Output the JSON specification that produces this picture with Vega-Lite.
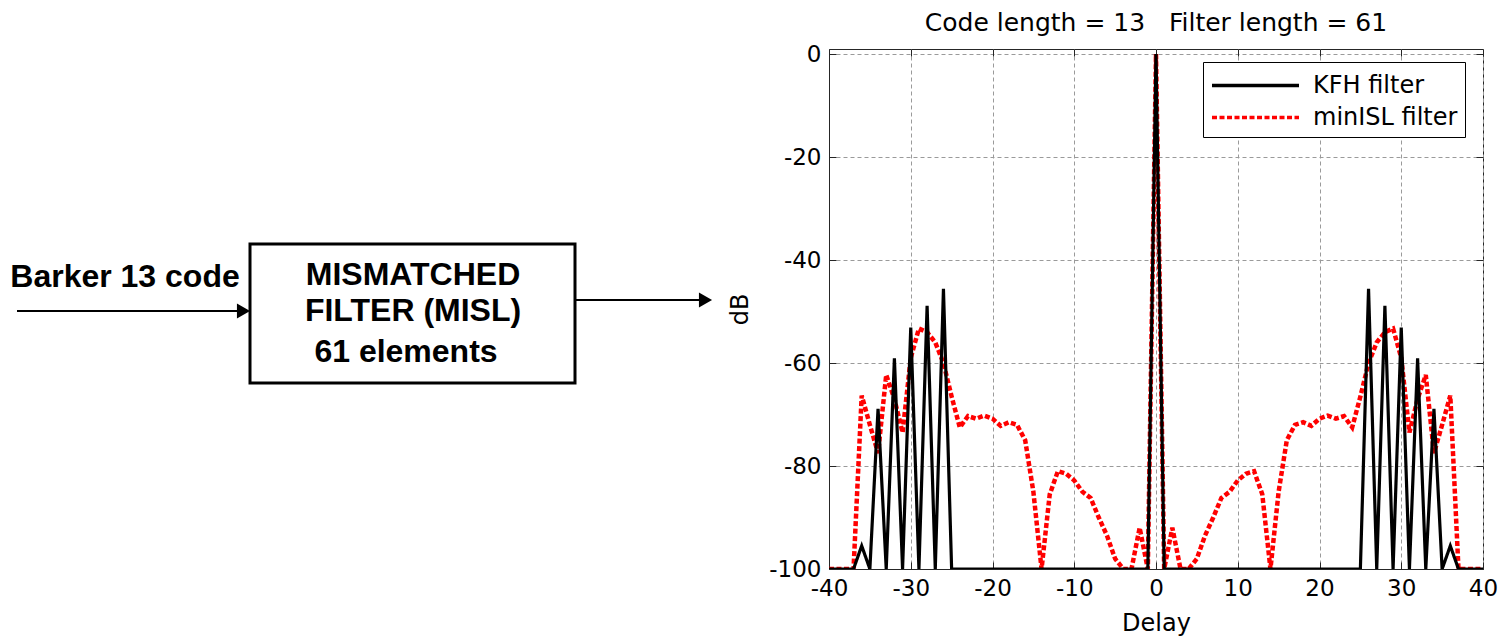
{
  "$schema": "https://vega.github.io/schema/vega-lite/v6.json",
  "padding": {"left": 0, "top": 10, "right": 0, "bottom": 0},
  "spacing": 8,
  "background": "white",
  "datasets": {
    "box": [{"x1": 250, "x2": 575, "y1": 245, "y2": 384}],
    "arrows": [
      {"x1": 17, "x2": 240, "y1": 312, "y2": 312},
      {"x1": 576, "x2": 702, "y1": 301, "y2": 301}
    ],
    "heads": [{"x": 243.5, "y": 312}, {"x": 705.5, "y": 301}],
    "labels": [
      {"x": 125, "y": 278, "t": "Barker 13 code"},
      {"x": 413, "y": 276, "t": "MISMATCHED"},
      {"x": 413, "y": 312, "t": "FILTER (MISL)"},
      {"x": 406, "y": 353, "t": "61 elements"}
    ],
    "kfh": [
      {"d": -40, "db": -100, "s": "KFH filter"}, {"d": -39, "db": -100, "s": "KFH filter"}, {"d": -38, "db": -100, "s": "KFH filter"}, {"d": -37, "db": -100, "s": "KFH filter"},
      {"d": -36, "db": -95.5, "s": "KFH filter"}, {"d": -35, "db": -100, "s": "KFH filter"}, {"d": -34, "db": -68.9, "s": "KFH filter"}, {"d": -33, "db": -100, "s": "KFH filter"},
      {"d": -32, "db": -59.1, "s": "KFH filter"}, {"d": -31, "db": -100, "s": "KFH filter"}, {"d": -30, "db": -53.1, "s": "KFH filter"}, {"d": -29, "db": -100, "s": "KFH filter"},
      {"d": -28, "db": -48.9, "s": "KFH filter"}, {"d": -27, "db": -100, "s": "KFH filter"}, {"d": -26, "db": -45.6, "s": "KFH filter"}, {"d": -25, "db": -100, "s": "KFH filter"},
      {"d": -24, "db": -100, "s": "KFH filter"}, {"d": -23, "db": -100, "s": "KFH filter"}, {"d": -22, "db": -100, "s": "KFH filter"}, {"d": -21, "db": -100, "s": "KFH filter"},
      {"d": -20, "db": -100, "s": "KFH filter"}, {"d": -19, "db": -100, "s": "KFH filter"}, {"d": -18, "db": -100, "s": "KFH filter"}, {"d": -17, "db": -100, "s": "KFH filter"},
      {"d": -16, "db": -100, "s": "KFH filter"}, {"d": -15, "db": -100, "s": "KFH filter"}, {"d": -14, "db": -100, "s": "KFH filter"}, {"d": -13, "db": -100, "s": "KFH filter"},
      {"d": -12, "db": -100, "s": "KFH filter"}, {"d": -11, "db": -100, "s": "KFH filter"}, {"d": -10, "db": -100, "s": "KFH filter"}, {"d": -9, "db": -100, "s": "KFH filter"},
      {"d": -8, "db": -100, "s": "KFH filter"}, {"d": -7, "db": -100, "s": "KFH filter"}, {"d": -6, "db": -100, "s": "KFH filter"}, {"d": -5, "db": -100, "s": "KFH filter"},
      {"d": -4, "db": -100, "s": "KFH filter"}, {"d": -3, "db": -100, "s": "KFH filter"}, {"d": -2, "db": -100, "s": "KFH filter"}, {"d": -1, "db": -100, "s": "KFH filter"},
      {"d": 0, "db": 0, "s": "KFH filter"},
      {"d": 1, "db": -100, "s": "KFH filter"}, {"d": 2, "db": -100, "s": "KFH filter"}, {"d": 3, "db": -100, "s": "KFH filter"}, {"d": 4, "db": -100, "s": "KFH filter"},
      {"d": 5, "db": -100, "s": "KFH filter"}, {"d": 6, "db": -100, "s": "KFH filter"}, {"d": 7, "db": -100, "s": "KFH filter"}, {"d": 8, "db": -100, "s": "KFH filter"},
      {"d": 9, "db": -100, "s": "KFH filter"}, {"d": 10, "db": -100, "s": "KFH filter"}, {"d": 11, "db": -100, "s": "KFH filter"}, {"d": 12, "db": -100, "s": "KFH filter"},
      {"d": 13, "db": -100, "s": "KFH filter"}, {"d": 14, "db": -100, "s": "KFH filter"}, {"d": 15, "db": -100, "s": "KFH filter"}, {"d": 16, "db": -100, "s": "KFH filter"},
      {"d": 17, "db": -100, "s": "KFH filter"}, {"d": 18, "db": -100, "s": "KFH filter"}, {"d": 19, "db": -100, "s": "KFH filter"}, {"d": 20, "db": -100, "s": "KFH filter"},
      {"d": 21, "db": -100, "s": "KFH filter"}, {"d": 22, "db": -100, "s": "KFH filter"}, {"d": 23, "db": -100, "s": "KFH filter"}, {"d": 24, "db": -100, "s": "KFH filter"},
      {"d": 25, "db": -100, "s": "KFH filter"}, {"d": 26, "db": -45.6, "s": "KFH filter"}, {"d": 27, "db": -100, "s": "KFH filter"}, {"d": 28, "db": -48.9, "s": "KFH filter"},
      {"d": 29, "db": -100, "s": "KFH filter"}, {"d": 30, "db": -53.1, "s": "KFH filter"}, {"d": 31, "db": -100, "s": "KFH filter"}, {"d": 32, "db": -59.1, "s": "KFH filter"},
      {"d": 33, "db": -100, "s": "KFH filter"}, {"d": 34, "db": -68.9, "s": "KFH filter"}, {"d": 35, "db": -100, "s": "KFH filter"}, {"d": 36, "db": -95.5, "s": "KFH filter"},
      {"d": 37, "db": -100, "s": "KFH filter"}, {"d": 38, "db": -100, "s": "KFH filter"}, {"d": 39, "db": -100, "s": "KFH filter"}, {"d": 40, "db": -100, "s": "KFH filter"}
    ],
    "isl": [
      {"d": -40, "db": -100, "s": "minISL filter"}, {"d": -39, "db": -100, "s": "minISL filter"}, {"d": -38, "db": -100, "s": "minISL filter"}, {"d": -37, "db": -100, "s": "minISL filter"},
      {"d": -36, "db": -66.3, "s": "minISL filter"}, {"d": -35, "db": -72, "s": "minISL filter"}, {"d": -34, "db": -77.5, "s": "minISL filter"}, {"d": -33, "db": -62.3, "s": "minISL filter"},
      {"d": -32, "db": -67, "s": "minISL filter"}, {"d": -31, "db": -73.5, "s": "minISL filter"}, {"d": -30, "db": -59, "s": "minISL filter"}, {"d": -29, "db": -53.3, "s": "minISL filter"},
      {"d": -28, "db": -54, "s": "minISL filter"}, {"d": -27, "db": -56, "s": "minISL filter"}, {"d": -26, "db": -60, "s": "minISL filter"}, {"d": -25, "db": -66.5, "s": "minISL filter"},
      {"d": -24, "db": -72.5, "s": "minISL filter"}, {"d": -23, "db": -70.3, "s": "minISL filter"}, {"d": -22, "db": -70.8, "s": "minISL filter"}, {"d": -21, "db": -70.2, "s": "minISL filter"},
      {"d": -20, "db": -70.8, "s": "minISL filter"}, {"d": -19, "db": -72.2, "s": "minISL filter"}, {"d": -18, "db": -71.5, "s": "minISL filter"}, {"d": -17, "db": -72, "s": "minISL filter"},
      {"d": -16, "db": -75, "s": "minISL filter"}, {"d": -15, "db": -85, "s": "minISL filter"}, {"d": -14, "db": -100, "s": "minISL filter"}, {"d": -13, "db": -85.5, "s": "minISL filter"},
      {"d": -12, "db": -81, "s": "minISL filter"}, {"d": -11, "db": -81.5, "s": "minISL filter"}, {"d": -10, "db": -82.8, "s": "minISL filter"}, {"d": -9, "db": -85, "s": "minISL filter"},
      {"d": -8, "db": -86.2, "s": "minISL filter"}, {"d": -7, "db": -90, "s": "minISL filter"}, {"d": -6, "db": -93.5, "s": "minISL filter"}, {"d": -5, "db": -98, "s": "minISL filter"},
      {"d": -4, "db": -100, "s": "minISL filter"}, {"d": -3, "db": -100, "s": "minISL filter"}, {"d": -2, "db": -92, "s": "minISL filter"}, {"d": -1, "db": -100, "s": "minISL filter"},
      {"d": 0, "db": 0, "s": "minISL filter"},
      {"d": 1, "db": -100, "s": "minISL filter"}, {"d": 2, "db": -92, "s": "minISL filter"}, {"d": 3, "db": -100, "s": "minISL filter"}, {"d": 4, "db": -100, "s": "minISL filter"},
      {"d": 5, "db": -98, "s": "minISL filter"}, {"d": 6, "db": -93.5, "s": "minISL filter"}, {"d": 7, "db": -90, "s": "minISL filter"}, {"d": 8, "db": -86.2, "s": "minISL filter"},
      {"d": 9, "db": -85, "s": "minISL filter"}, {"d": 10, "db": -82.8, "s": "minISL filter"}, {"d": 11, "db": -81.5, "s": "minISL filter"}, {"d": 12, "db": -81, "s": "minISL filter"},
      {"d": 13, "db": -85.5, "s": "minISL filter"}, {"d": 14, "db": -100, "s": "minISL filter"}, {"d": 15, "db": -85, "s": "minISL filter"}, {"d": 16, "db": -75, "s": "minISL filter"},
      {"d": 17, "db": -72, "s": "minISL filter"}, {"d": 18, "db": -71.5, "s": "minISL filter"}, {"d": 19, "db": -72.2, "s": "minISL filter"}, {"d": 20, "db": -70.8, "s": "minISL filter"},
      {"d": 21, "db": -70.2, "s": "minISL filter"}, {"d": 22, "db": -70.8, "s": "minISL filter"}, {"d": 23, "db": -70.3, "s": "minISL filter"}, {"d": 24, "db": -72.5, "s": "minISL filter"},
      {"d": 25, "db": -66.5, "s": "minISL filter"}, {"d": 26, "db": -60, "s": "minISL filter"}, {"d": 27, "db": -56, "s": "minISL filter"}, {"d": 28, "db": -54, "s": "minISL filter"},
      {"d": 29, "db": -53.3, "s": "minISL filter"}, {"d": 30, "db": -59, "s": "minISL filter"}, {"d": 31, "db": -73.5, "s": "minISL filter"}, {"d": 32, "db": -67, "s": "minISL filter"},
      {"d": 33, "db": -62.3, "s": "minISL filter"}, {"d": 34, "db": -77.5, "s": "minISL filter"}, {"d": 35, "db": -72, "s": "minISL filter"}, {"d": 36, "db": -66.3, "s": "minISL filter"},
      {"d": 37, "db": -100, "s": "minISL filter"}, {"d": 38, "db": -100, "s": "minISL filter"}, {"d": 39, "db": -100, "s": "minISL filter"}, {"d": 40, "db": -100, "s": "minISL filter"}
    ]
  },
  "hconcat": [
    {
      "width": 720,
      "height": 590,
      "view": {"stroke": null},
      "layer": [
        {
          "data": {"name": "box"},
          "mark": {"type": "rect", "filled": false, "stroke": "#000000", "strokeWidth": 3},
          "encoding": {
            "x": {"field": "x1", "type": "quantitative", "scale": {"domain": [0, 720], "nice": false, "zero": false}, "axis": null},
            "x2": {"field": "x2"},
            "y": {"field": "y1", "type": "quantitative", "scale": {"domain": [50, 640], "reverse": true, "nice": false, "zero": false}, "axis": null},
            "y2": {"field": "y2"}
          }
        },
        {
          "data": {"name": "arrows"},
          "mark": {"type": "rule", "stroke": "#000000", "strokeWidth": 2},
          "encoding": {
            "x": {"field": "x1", "type": "quantitative", "scale": {"domain": [0, 720], "nice": false, "zero": false}, "axis": null},
            "x2": {"field": "x2"},
            "y": {"field": "y1", "type": "quantitative", "scale": {"domain": [50, 640], "reverse": true, "nice": false, "zero": false}, "axis": null},
            "y2": {"field": "y2"}
          }
        },
        {
          "data": {"name": "heads"},
          "mark": {"type": "point", "shape": "triangle-right", "filled": true, "color": "#000000", "opacity": 1, "size": 230},
          "encoding": {
            "x": {"field": "x", "type": "quantitative", "scale": {"domain": [0, 720], "nice": false, "zero": false}, "axis": null},
            "y": {"field": "y", "type": "quantitative", "scale": {"domain": [50, 640], "reverse": true, "nice": false, "zero": false}, "axis": null}
          }
        },
        {
          "data": {"name": "labels"},
          "mark": {"type": "text", "font": "Liberation Sans", "fontWeight": "bold", "fontSize": 32, "align": "center", "baseline": "middle", "color": "#000000"},
          "encoding": {
            "x": {"field": "x", "type": "quantitative", "scale": {"domain": [0, 720], "nice": false, "zero": false}, "axis": null},
            "y": {"field": "y", "type": "quantitative", "scale": {"domain": [50, 640], "reverse": true, "nice": false, "zero": false}, "axis": null},
            "text": {"field": "t"}
          }
        }
      ]
    },
    {
      "width": 654,
      "height": 520,
      "title": {"text": "Code length = 13\u00a0\u00a0\u00a0Filter length = 61", "font": "DejaVu Sans", "fontSize": 25, "fontWeight": "normal", "color": "#000000", "anchor": "middle", "frame": "group", "offset": 7.5},
      "view": {"stroke": "#262626", "strokeWidth": 1},
      "resolve": {"axis": {"x": "independent", "y": "independent"}},
      "layer": [
        {
          "data": {"name": "isl"},
          "mark": {"type": "line", "strokeWidth": 4.5, "clip": true},
          "encoding": {
            "x": {
              "field": "d", "type": "quantitative",
              "scale": {"domain": [-40, 40], "nice": false, "zero": false},
              "axis": {
                "values": [-40, -30, -20, -10, 0, 10, 20, 30, 40],
                "labelExpr": "'' + datum.value",
                "grid": true, "gridDash": [4, 3], "gridColor": "#9a9a9a", "gridWidth": 1,
                "tickSize": -7, "tickColor": "#262626", "domainColor": "#262626",
                "labelFont": "DejaVu Sans", "labelFontSize": 23, "labelColor": "#000000", "labelPadding": 15, "labelFlush": false, "labelOverlap": false,
                "title": "Delay", "titleFont": "DejaVu Sans", "titleFontSize": 24, "titleFontWeight": "normal", "titleColor": "#000000", "titlePadding": 11
              }
            },
            "y": {
              "field": "db", "type": "quantitative",
              "scale": {"domain": [-100, 1], "nice": false, "zero": false},
              "axis": {
                "values": [-100, -80, -60, -40, -20, 0],
                "labelExpr": "'' + datum.value",
                "grid": true, "gridDash": [4, 3], "gridColor": "#9a9a9a", "gridWidth": 1,
                "tickSize": -7, "tickColor": "#262626", "domainColor": "#262626",
                "labelFont": "DejaVu Sans", "labelFontSize": 23, "labelColor": "#000000", "labelPadding": 15, "labelFlush": false, "labelOverlap": false,
                "title": "dB", "titleFont": "DejaVu Sans", "titleFontSize": 24, "titleFontWeight": "normal", "titleColor": "#000000", "titlePadding": 16
              }
            },
            "color": {
              "field": "s", "type": "nominal",
              "scale": {"domain": ["KFH filter", "minISL filter"], "range": ["#000000", "#ff0000"]},
              "legend": {
                "orient": "none", "legendX": 1203, "legendY": 13, "title": null, "direction": "vertical",
                "fillColor": "white", "strokeColor": "#000000", "padding": 7,
                "symbolType": "M-1,0H5", "symbolSize": 841, "symbolStrokeWidth": 3.5, "symbolFillColor": "transparent",
                "labelFont": "DejaVu Sans", "labelFontSize": 24, "labelColor": "#000000", "labelOffset": 70, "rowPadding": 3
              }
            },
            "strokeDash": {
              "field": "s", "type": "nominal",
              "scale": {"domain": ["KFH filter", "minISL filter"], "range": [[1, 0], [5, 2.5]]}
            }
          }
        },
        {
          "data": {"name": "kfh"},
          "mark": {"type": "line", "strokeWidth": 3.2, "clip": true},
          "encoding": {
            "x": {"field": "d", "type": "quantitative", "axis": {"orient": "top", "values": [-40, -30, -20, -10, 0, 10, 20, 30, 40], "labels": false, "grid": false, "domain": false, "tickSize": -7, "tickColor": "#262626", "title": null}},
            "y": {"field": "db", "type": "quantitative", "axis": {"orient": "right", "values": [-100, -80, -60, -40, -20, 0], "labels": false, "grid": false, "domain": false, "tickSize": -7, "tickColor": "#262626", "title": null}},
            "color": {"field": "s", "type": "nominal"},
            "strokeDash": {"field": "s", "type": "nominal"}
          }
        }
      ]
    }
  ]
}
